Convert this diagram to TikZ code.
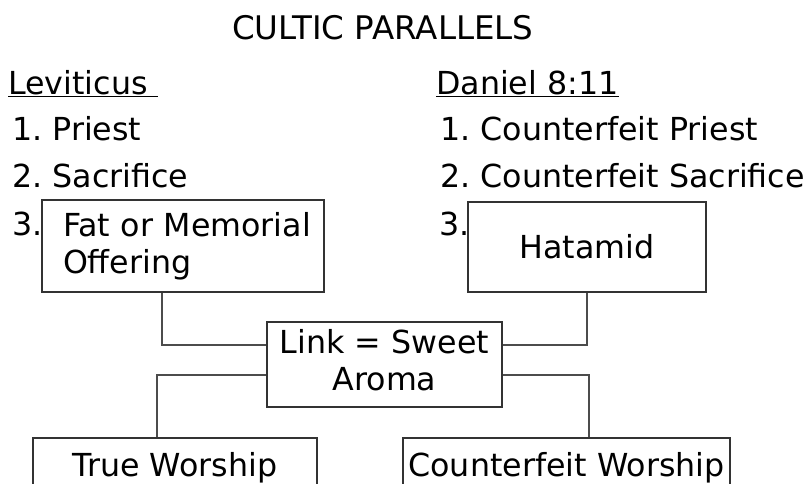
\documentclass[tikz,border=0pt]{standalone}
\usepackage{fontspec}
\setmainfont{DejaVu Sans}
\frenchspacing
\usepackage{tikz}
\usetikzlibrary{calc}
\tikzstyle{box}=[rectangle, draw=black!80, line width=2.2pt, inner sep=0pt, anchor=center, font=\fontsize{31.7}{37}\selectfont]
\tikzstyle{annot}=[inner sep=0pt, anchor=base west, font=\fontsize{31.7}{37}\selectfont]
\tikzstyle{wire}=[draw=black!70, line width=2.2pt]

\begin{document}
\begin{tikzpicture}[x=1pt, y=-1pt]
	\useasboundingbox (0,0) rectangle (808,483);
	\clip (0,0) rectangle (808,483);

	\node[annot, font=\fontsize{32.5}{37}\selectfont] (title) at (232,39) {CULTIC PARALLELS};

	\node[annot] (levi) at (8,94) {\underline{Leviticus\ }};
	\node[annot] (levi1) at (12,140) {1. Priest};
	\node[annot] (levi2) at (12,187) {2. Sacrifice};
	\node[annot] (levi3) at (12,235) {3.};

	\node[annot] (dan) at (436,94) {\underline{Daniel 8:11}};
	\node[annot] (dan1) at (440,140) {1. Counterfeit Priest};
	\node[annot] (dan2) at (440,187) {2. Counterfeit Sacrifice};
	\node[annot] (dan3) at (439,235) {3.};

	\node[box, minimum width=282pt, minimum height=92pt, text width=240pt, align=left](fat) at (183,246){\mbox{Fat or Memorial}\\Offering};
	\node[box, minimum width=238pt, minimum height=90pt](hatamid) at (587,247){Hatamid};
	\node[box, minimum width=235pt, minimum height=85pt, align=center, text depth=9pt](link) at (384.5,364.5){Link = Sweet\\Aroma};
	\node[box, minimum width=284pt, minimum height=60pt](true) at (175,468){True Worship};
	\node[box, minimum width=327pt, minimum height=60pt](fake) at (566.5,468){Counterfeit Worship};

	\draw[wire] ([xshift=-21pt]fat.south) |- ([yshift=19.5pt]link.west);
	\draw[wire] (hatamid.south) |- ([yshift=19.5pt]link.east);
	\draw[wire] ([yshift=-10.5pt]link.west) -| ([xshift=-18pt]true.north);
	\draw[wire] ([yshift=-10.5pt]link.east) -| ([xshift=22.5pt]fake.north);
\end{tikzpicture}
\end{document}
